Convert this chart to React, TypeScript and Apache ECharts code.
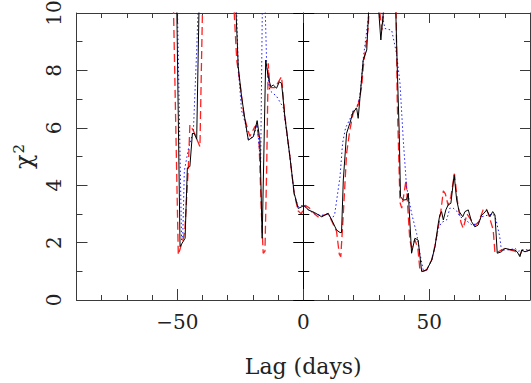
import React, { useEffect, useRef } from "react";
import * as echarts from "echarts";

// ---- data ----
const lagBlack = [-90, -50.4, -48.9, -46.9, -46, -45, -44, -43.2, -42.3, -41.3, -40, -28, -26.9, -25.8, -24.5, -23.1, -21.8, -19.8, -18.3, -17.2, -16.3, -14.9, -13.9, -12.9, -11.9, -10.6, -9.5, -8.6, -7.3, -5.3, -3.6, -2, -0.6, 0.3, 2, 4.6, 7.3, 9.9, 11.3, 13.2, 14.6, 15.2, 15.9, 17.2, 18.5, 19.8, 21.2, 21.8, 22.5, 23.8, 25.2, 25.8, 26.1, 29.6, 30.8, 32.3, 36.6, 37.3, 38.1, 38.6, 39.7, 41, 41.7, 43, 44.3, 45.6, 47, 49, 51, 52.3, 53.6, 54.2, 54.9, 55.6, 56.6, 57.5, 58.6, 59.9, 60.9, 61.9, 63.3, 64.2, 65.5, 66.8, 68.1, 69.4, 70.8, 71.7, 72.8, 74.1, 75.2, 76.1, 77, 78.7, 80, 82, 84, 84.9, 86, 86.7, 88, 90];
const chiBlack = [14, 11.5, 1.86, 2.15, 4.6, 4.65, 5.8, 5.8, 5.6, 10.5, 14, 14, 10.5, 8.13, 7.1, 6.27, 5.57, 5.69, 6.25, 5.57, 2.15, 8.36, 7.78, 7.43, 7.49, 7.38, 7.6, 7.55, 6.39, 4.99, 3.72, 3.19, 3.25, 3.3, 3.14, 3.04, 2.9, 3.02, 2.79, 2.44, 2.35, 2.35, 4.18, 5.81, 6.16, 6.56, 6.68, 6.33, 7.03, 8.36, 8.71, 9.76, 10.5, 10.5, 9.06, 10.5, 10.5, 8.13, 5.8, 3.6, 3.48, 3.5, 3.72, 1.63, 2.15, 2.09, 0.99, 1.05, 1.39, 1.86, 2.67, 2.96, 3.08, 2.79, 3.14, 3.31, 3.37, 4.36, 3.48, 3.08, 2.9, 3.08, 3.14, 2.73, 2.55, 2.61, 2.96, 3.02, 3.14, 2.9, 3.08, 2.96, 1.63, 1.68, 1.8, 1.76, 1.74, 1.68, 1.51, 1.74, 1.68, 1.74];

const lagBlue = [-90, -50.2, -48.3, -47.8, -47.2, -45.5, -43.6, -42.3, -41.6, -40, -28, -26.6, -25.8, -24.5, -23.1, -21.8, -19.8, -18.3, -16.9, -16.2, -15.2, -14.5, -13.3, -10.6, -7.9, -5.3, -3.6, -2, 0, 2, 4.6, 7.3, 9.9, 11.3, 12.5, 14.6, 15.6, 16.8, 18.5, 19.8, 21.2, 22.5, 23.8, 25.8, 26.3, 30.2, 32.4, 35.1, 37, 38.4, 39.7, 41, 43, 45, 46.3, 47.6, 49, 51, 52.3, 53.6, 54.9, 56.9, 58.2, 59.5, 60.9, 62.3, 64.2, 67.2, 69.4, 70.8, 73, 75.4, 76.5, 78, 78.7, 80, 82, 84, 85.5, 87, 90];
const chiBlue = [14, 11.5, 2.09, 2.3, 4.5, 5.3, 5.9, 8.7, 10.5, 14, 14, 10.5, 8.1, 6.6, 6.2, 5.6, 5.7, 6.1, 4.8, 10.5, 10.5, 8.13, 7.3, 7.1, 6.7, 5.0, 3.7, 3.25, 3.3, 3.14, 3.0, 2.95, 3.0, 2.8, 3.0, 4.3, 5.46, 6.0, 6.3, 6.6, 6.7, 7.1, 8.4, 9.8, 10.5, 10.5, 9.46, 9.4, 8.6, 7.55, 5.57, 3.95, 3.02, 2.32, 1.63, 1.05, 1.05, 1.4, 1.9, 2.5, 2.7, 2.79, 3.2, 3.2, 3.1, 2.9, 2.8, 2.6, 2.7, 2.9, 2.95, 3.0, 2.8, 2.2, 1.7, 1.75, 1.75, 1.8, 1.7, 1.75, 1.75];

const lagRed = [-90, -51.8, -49.6, -47.6, -47, -45.6, -45, -43.6, -41, -40.3, -39.8, -39, -29, -27.7, -26.4, -25.1, -23.5, -21.2, -19.2, -18.3, -17.5, -16.6, -15.9, -15.2, -14.5, -13.9, -13.2, -11.2, -8.6, -7.3, -5.3, -3.6, -2, -0.8, 0.8, 2.5, 4.5, 6.5, 8, 9.9, 11.3, 13.2, 14.3, 14.9, 15.9, 17.2, 18.5, 19.8, 21.8, 23.2, 23.8, 25.8, 26.3, 29.8, 31.2, 32.6, 36.8, 37.3, 38.4, 39.1, 40.8, 42.3, 43, 44.3, 45.5, 46.3, 47.6, 49, 51, 52.3, 53.6, 54.5, 55.6, 56.4, 57.5, 58.6, 60, 61.4, 62.6, 63.5, 65, 66.5, 68, 69.5, 71.4, 72.5, 73.5, 75.4, 76.1, 77.4, 80, 82, 84, 86, 87, 88.5, 90];
const chiRed = [14, 11.5, 1.57, 2.15, 2.44, 4.65, 6.1, 5.9, 5.34, 8.7, 11, 14, 14, 10.5, 8.36, 7.55, 6.4, 5.7, 6.04, 6.1, 5.4, 3.0, 1.63, 1.7, 4.65, 8.25, 7.4, 7.4, 7.78, 6.4, 5.0, 3.7, 3.1, 3.0, 3.3, 3.2, 3.0, 2.85, 2.95, 3.0, 2.75, 2.4, 1.6, 1.51, 3.0, 5.11, 5.92, 6.5, 6.8, 7.43, 8.1, 9.5, 10.5, 10.5, 9.4, 10.5, 10.5, 6.97, 3.4, 3.2, 4.18, 2.09, 1.83, 2.1, 1.8, 1.05, 1.0, 1.05, 1.4, 1.9, 2.55, 3.0, 3.8, 3.7, 3.3, 3.6, 4.4, 3.3, 2.7, 2.5, 3.0, 2.8, 2.6, 2.7, 3.14, 3.2, 3.0, 2.44, 1.63, 1.68, 1.8, 1.75, 1.7, 1.56, 1.75, 1.7, 1.75];

const xLabelValues = [-50, 0, 50];
const xName = "Lag (days)";
const yNameBase = "χ";
const yNameSup = "2";

const FONT = "DejaVu Serif";
const FRAME = "#3a3a3a";

function zip(xs: number[], ys: number[]) {
  return xs.map((x, i) => [x, ys[i]]);
}

export default function App() {
  const ref = useRef<HTMLDivElement>(null);
  useEffect(() => {
    document.body.style.margin = "0";
    if (!ref.current) return;
    const chart = echarts.init(ref.current, undefined, { renderer: "svg" });
    const xBase = {
      type: "value",
      min: -90,
      max: 90,
      interval: 10,
      splitLine: { show: false },
    };
    const yBase = {
      type: "value",
      min: 0,
      max: 10,
      interval: 2,
      splitLine: { show: false },
      minorSplitLine: { show: false },
    };
    chart.setOption({
      animation: false,
      backgroundColor: "#fff",
      grid: { left: 76.5, right: 1, top: 13, bottom: 83, outerBoundsMode: "none", containLabel: false },
      xAxis: [
        {
          ...xBase,
          position: "bottom",
          axisLine: { show: true, onZero: false, lineStyle: { color: FRAME, width: 1 } },
          axisTick: { show: true, inside: true, length: 5, lineStyle: { color: FRAME } },
          axisLabel: {
            show: true,
            customValues: xLabelValues,
            margin: 12,
            fontFamily: FONT,
            fontSize: 20,
            color: "#222",
            formatter: (v: number) => (v < 0 ? "\u2212" + Math.abs(v) : String(v)),
          },
          name: xName,
          nameLocation: "middle",
          nameGap: 55,
          nameTextStyle: { fontFamily: FONT, fontSize: 22, color: "#222" },
        },
        {
          ...xBase,
          position: "bottom",
          axisLine: { show: false, onZero: false },
          axisTick: { show: true, inside: true, length: 11, customValues: xLabelValues, lineStyle: { color: FRAME } },
          axisLabel: { show: false },
        },
        {
          ...xBase,
          position: "top",
          axisLine: { show: true, onZero: false, lineStyle: { color: FRAME, width: 1 } },
          axisTick: { show: true, inside: true, length: 5, lineStyle: { color: FRAME } },
          axisLabel: { show: false },
        },
        {
          ...xBase,
          position: "top",
          axisLine: { show: false, onZero: false },
          axisTick: { show: true, inside: true, length: 10, customValues: xLabelValues, lineStyle: { color: FRAME } },
          axisLabel: { show: false },
        },
      ],
      yAxis: [
        {
          ...yBase,
          position: "left",
          axisLine: { show: true, onZero: false, lineStyle: { color: FRAME, width: 1 } },
          axisTick: { show: true, inside: true, length: 11, lineStyle: { color: FRAME } },
          minorTick: { show: true, splitNumber: 2, length: 6, lineStyle: { color: FRAME } },
          axisLabel: {
            show: true,
            rotate: 90,
            margin: 13,
            fontFamily: FONT,
            fontSize: 20,
            color: "#222",
          },
          name: "{a|" + yNameBase + "}{b|" + yNameSup + "}",
          nameLocation: "middle",
          nameRotate: 90,
          nameGap: 41,
          nameTextStyle: {
            fontFamily: FONT,
            fontSize: 22,
            color: "#222",
            rich: {
              a: { fontFamily: FONT, fontSize: 24, color: "#222", verticalAlign: "bottom" },
              b: { fontFamily: FONT, fontSize: 15, color: "#222", verticalAlign: "top", padding: [0, 0, 0, 1] },
            },
          },
        },
        {
          ...yBase,
          position: "right",
          axisLine: { show: true, onZero: false, lineStyle: { color: FRAME, width: 1 } },
          axisTick: { show: true, inside: true, length: 10, lineStyle: { color: FRAME } },
          minorTick: { show: true, splitNumber: 2, length: 6, lineStyle: { color: FRAME } },
          axisLabel: { show: false },
        },
        {
          ...yBase,
          position: "left",
          axisLine: { show: true, onZero: true, onZeroAxisIndex: 0, lineStyle: { color: "#000", width: 1 } },
          axisTick: { show: true, inside: true, length: 11, lineStyle: { color: "#000" } },
          minorTick: { show: true, splitNumber: 2, length: 6, lineStyle: { color: "#000" } },
          axisLabel: { show: false },
        },
        {
          ...yBase,
          position: "left",
          axisLine: { show: false, onZero: true, onZeroAxisIndex: 0 },
          axisTick: { show: true, inside: false, length: 10, lineStyle: { color: "#000" } },
          minorTick: { show: true, splitNumber: 2, length: 5, lineStyle: { color: "#000" } },
          axisLabel: { show: false },
        },
      ],
      series: [
        {
          type: "line",
          data: zip(lagRed, chiRed),
          showSymbol: false,
          clip: true,
          lineStyle: { color: "#ff2020", width: 1.3, type: [8, 4] },
          z: 2,
        },
        {
          type: "line",
          data: zip(lagBlue, chiBlue),
          showSymbol: false,
          clip: true,
          lineStyle: { color: "#1a1aff", width: 1, type: [1.5, 2.5] },
          z: 3,
        },
        {
          type: "line",
          data: zip(lagBlack, chiBlack),
          showSymbol: false,
          clip: true,
          lineStyle: { color: "#000", width: 1 },
          z: 4,
        },
      ],
    });
    return () => chart.dispose();
  }, []);
  return <div ref={ref} style={{ width: 531, height: 383 }} />;
}
